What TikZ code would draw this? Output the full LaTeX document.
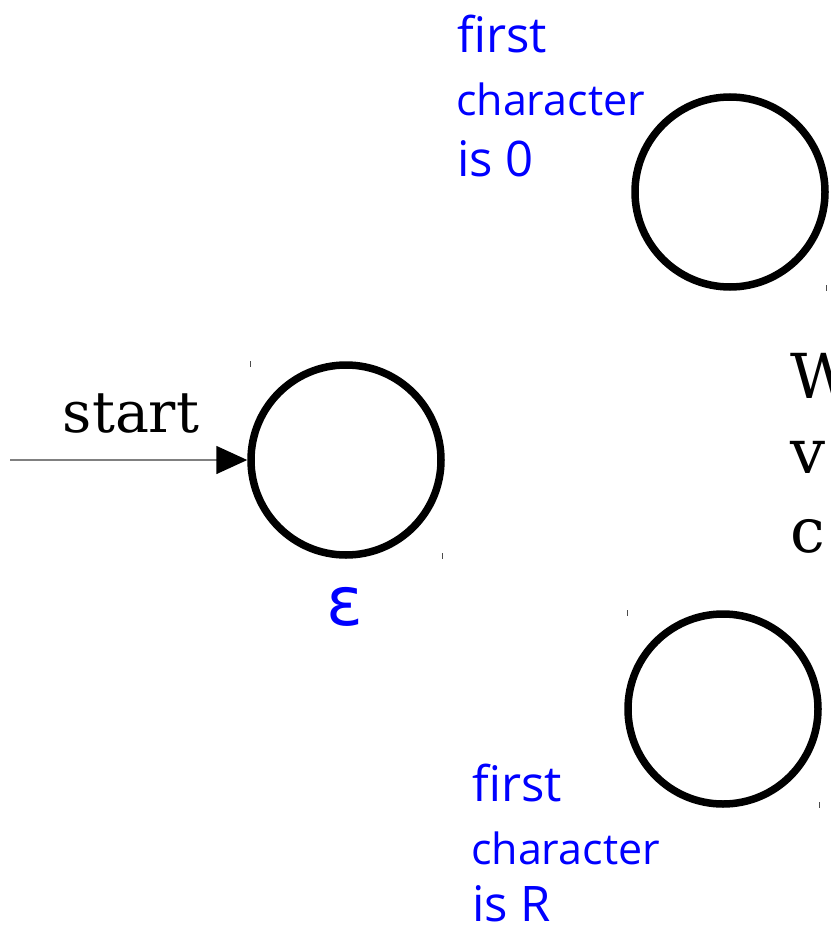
\documentclass[tikz,border=0pt]{standalone}
\usepackage{fontspec}
\setmainfont{DejaVu Serif}
\newfontfamily\handfont{Open Sans}
\newfontfamily\epsfont{DejaVu Sans}
\usetikzlibrary{arrows.meta}
\definecolor{labelblue}{RGB}{0,0,255}
\tikzset{
  state/.style={circle,draw=black,line width=7.5pt,minimum size=190pt,inner sep=0pt},
  tick/.style={draw=black!70,line width=0.8pt},
  hand/.style={text=labelblue,anchor=base west,inner sep=0pt,font=\handfont},
  serifbig/.style={anchor=base west,inner sep=0pt,font=\fontsize{62}{70}\selectfont}
}
\begin{document}
\begin{tikzpicture}[x=1pt,y=-1pt]
\useasboundingbox (0,0) rectangle (830,928);
% states
\node[state] (s0) at (346,460) {};
\node[state] (s1) at (730,192) {};
\node[state] (s2) at (723,709) {};
% tick marks
\foreach \cx/\cy [count=\i] in {346/460,730/192,723/709}{
  \draw[tick] (\cx-96,\cy-96-3) -- (\cx-96,\cy-96+3);
  \draw[tick] (\cx+96,\cy+96-3) -- (\cx+96,\cy+96+3);
}
% start arrow
\coordinate (in) at (10,460);
\draw[draw=black!50,line width=1.6pt,-{Triangle[length=31pt,width=28pt,color=black]}] (in) -- (s0.west);
\node[anchor=base,inner sep=0pt,font=\fontsize{57}{60}\selectfont] (startlbl) at (131,432) {start};
% epsilon
\node[anchor=base,inner sep=0pt,text=labelblue,font=\epsfont\fontsize{68}{70}\selectfont] (eps) at (345,625) {ε};
% labels top
\node[hand,font=\handfont\fontsize{49}{50}\selectfont] (t1) at (457,53) {first};
\node[hand,font=\handfont\fontsize{43}{44}\selectfont] (t2) at (456,116) {character};
\node[hand,font=\handfont\fontsize{49}{50}\selectfont] (t3) at (457,177) {is 0};
% labels bottom
\node[hand,font=\handfont\fontsize{49}{50}\selectfont] (b1) at (472,801) {first};
\node[hand,font=\handfont\fontsize{43}{44}\selectfont] (b2) at (471,864) {character};
\node[hand,font=\handfont\fontsize{49}{50}\selectfont] (b3) at (472,921) {is R};
% right text (cut off at the edge, as in the reference)
\node[serifbig] (w1) at (790,398) {W};
\node[serifbig] (w2) at (790,473) {v};
\node[serifbig] (w3) at (790,552) {c};
\end{tikzpicture}
\end{document}
